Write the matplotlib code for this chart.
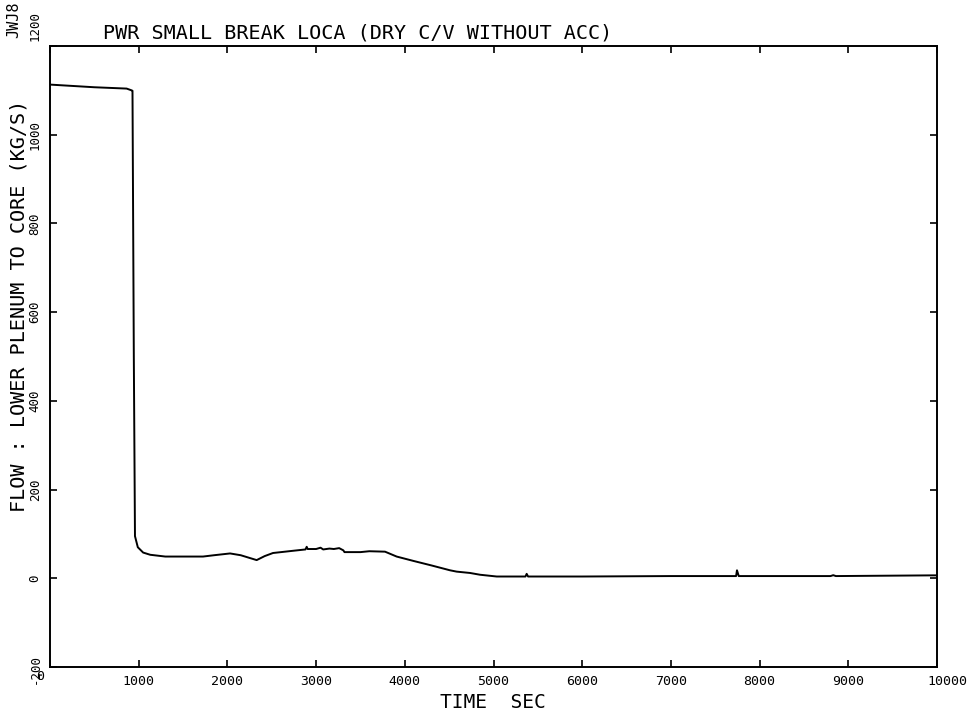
import matplotlib
matplotlib.use("Agg")
import matplotlib.pyplot as plt
import matplotlib.transforms as mtransforms

# ---- data ----
time_s = [0, 500, 864, 920, 930, 945, 958, 990, 1050, 1130, 1300, 1550, 1725, 1850,
          2030, 2150, 2330, 2420, 2514, 2650, 2740, 2880, 2894, 2905, 3000, 3050,
          3080, 3150, 3200, 3260, 3307, 3320, 3500, 3600, 3777, 3908, 4100, 4300,
          4510, 4585, 4735, 4848, 5036, 5360, 5374, 5390, 6000, 7000, 7735, 7745,
          7765, 8800, 8830, 8860, 9955, 10000]
flow = [1113, 1107, 1104, 1100, 1099, 500, 95, 70, 58, 53, 49, 49, 49, 52,
        56, 52, 41, 50, 57, 60, 62, 65, 71, 66, 66, 69,
        65, 67, 66, 68, 63, 59, 59, 61, 60, 49, 39, 29,
        18, 15, 12, 8, 4, 4, 10, 4, 4, 5, 5, 18,
        5, 5, 7, 5, 6.6, 6.6]

x_ticks = [0, 1000, 2000, 3000, 4000, 5000, 6000, 7000, 8000, 9000, 10000]
y_ticks = [-200, 0, 200, 400, 600, 800, 1000, 1200]

title = "PWR SMALL BREAK LOCA (DRY C/V WITHOUT ACC)"
ylabel = "FLOW : LOWER PLENUM TO CORE (KG/S)"
xlabel = "TIME  SEC"
tag = "JWJ8"

FONT = "DejaVu Sans Mono"

fig = plt.figure(figsize=(9.76, 7.17), dpi=100)
ax = fig.add_axes([50 / 976, 1 - 667 / 717, (937 - 50) / 976, (667 - 46) / 717])

ax.plot(time_s, flow, color="black", lw=1.4)

ax.set_xlim(0, 10000)
ax.set_ylim(-200, 1200)
ax.set_xticks(x_ticks)
ax.set_yticks(y_ticks)
ax.set_xticklabels([str(v) for v in x_ticks], fontfamily=FONT, fontsize=9.5)
ax.set_yticklabels([str(v) for v in y_ticks], fontfamily=FONT, fontsize=9,
                   rotation=90, va="center")
ax.tick_params(direction="in", length=5, width=1.2, top=True, right=True)
ax.tick_params(axis="x", pad=6)
ax.tick_params(axis="y", pad=6)
for sp in ax.spines.values():
    sp.set_linewidth(1.4)

# shift the extreme labels like the plotter did
labs = ax.get_yticklabels()
labs[-1].set_transform(labs[-1].get_transform() +
                       mtransforms.ScaledTranslation(0, 0.2, fig.dpi_scale_trans))
labs[0].set_transform(labs[0].get_transform() +
                      mtransforms.ScaledTranslation(0, -0.02, fig.dpi_scale_trans))
xl = ax.get_xticklabels()
xl[-1].set_transform(xl[-1].get_transform() +
                     mtransforms.ScaledTranslation(0.1, 0, fig.dpi_scale_trans))
xl[0].set_transform(xl[0].get_transform() +
                    mtransforms.ScaledTranslation(-0.1, 0.05, fig.dpi_scale_trans))

fig.text(103 / 976, 1 - 33 / 717, title, fontfamily=FONT, fontsize=14.5,
         ha="left", va="center")
fig.text(19 / 976, 1 - 306 / 717, ylabel, fontfamily=FONT, fontsize=14.5,
         rotation=90, ha="center", va="center")
fig.text(493 / 976, 1 - 703 / 717, xlabel, fontfamily=FONT, fontsize=14,
         ha="center", va="center")
fig.text(14 / 976, 1 - 20 / 717, tag, fontfamily=FONT, fontsize=11,
         rotation=90, ha="center", va="center")

fig.savefig("out.png", dpi=100)
